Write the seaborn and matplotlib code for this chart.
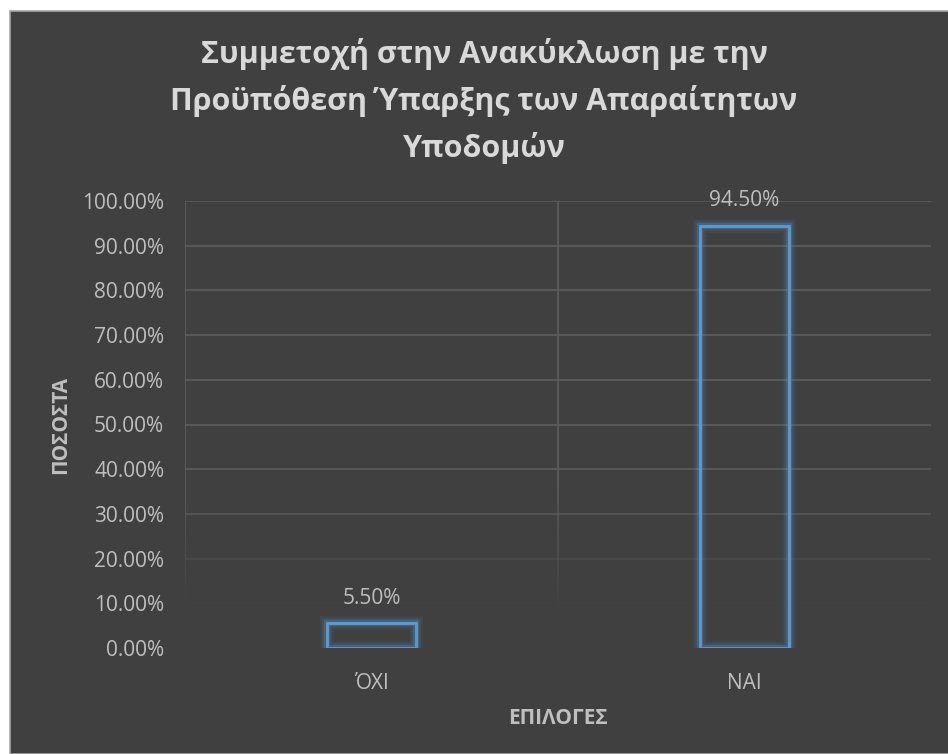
import numpy as np
import pandas as pd
import matplotlib
matplotlib.use("Agg")
import matplotlib.pyplot as plt
import matplotlib.patheffects as pe
from matplotlib.patches import Rectangle
from matplotlib.collections import LineCollection
import seaborn as sns

# Survey results
categories = ["ΌΧΙ", "ΝΑΙ"]
percentages = [5.50, 94.50]
title_text = "Συμμετοχή στην Ανακύκλωση με την\nΠροϋπόθεση Ύπαρξης των Απαραίτητων\nΥποδομών"
y_label = "ΠΟΣΟΣΤΑ"
x_label = "ΕΠΙΛΟΓΕΣ"
y_ticks = [0, 10, 20, 30, 40, 50, 60, 70, 80, 90, 100]

BG = "#404040"
GRID = "#5e5e5e"
BAR = "#5b9bd5"
TEXT = "#bfbfbf"
TITLE = "#d9d9d9"

sns.set_theme(style="dark")
plt.rcParams["font.family"] = ["Open Sans", "DejaVu Sans"]

df = pd.DataFrame({"choice": categories, "pct": percentages})

fig = plt.figure(figsize=(9.48, 7.54), dpi=100)
fig.patch.set_facecolor("white")
# dark chart area with a thin grey frame
frame = Rectangle((9.5 / 948, 0), 1, 1 - 10.5 / 754, transform=fig.transFigure,
                  facecolor=BG, edgecolor="#a6a6a6", linewidth=1.2, zorder=-5)
fig.add_artist(frame)

ax = fig.add_axes([185 / 948, 106 / 754, 746 / 948, 447 / 754])
ax.set_zorder(2)
ax.set_facecolor(BG)

sns.barplot(data=df, x="choice", y="pct", ax=ax, fill=False, width=0.24,
            color=BAR, linewidth=2.0, zorder=3)
for p in ax.patches:
    p.set_edgecolor(BAR)
    p.set_path_effects([
        pe.Stroke(linewidth=10, foreground=BAR, alpha=0.07),
        pe.Stroke(linewidth=7, foreground=BAR, alpha=0.12),
        pe.Stroke(linewidth=4.5, foreground=BAR, alpha=0.25),
        pe.Normal(),
    ])

ax.set_ylim(0, 100)
ax.set_xlim(-0.5, 1.5)

# gridlines that fade toward the baseline
def fade(v):
    return float(np.clip((v - 8) / 30, 0, 1))

for t in y_ticks[1:]:
    ax.axhline(t, color=GRID, linewidth=1.2, alpha=fade(t), zorder=1)
ys = np.linspace(0, 100, 201)
for xv in [-0.5, 0.5]:
    segs = [[(xv, ys[i]), (xv, ys[i + 1])] for i in range(len(ys) - 1)]
    cols = [(0.37, 0.37, 0.37, fade((ys[i] + ys[i + 1]) / 2)) for i in range(len(ys) - 1)]
    ax.add_collection(LineCollection(segs, colors=cols, linewidths=1.2, zorder=1))

for side in ax.spines.values():
    side.set_visible(False)
ax.grid(False)

ax.set_yticks(y_ticks)
ax.set_yticklabels([f"{v:.2f}%" for v in y_ticks])
ax.tick_params(axis="y", colors=TEXT, labelsize=15, length=0, pad=15)
ax.tick_params(axis="x", colors=TEXT, labelsize=15, length=0, pad=18)

for i, v in enumerate(percentages):
    ax.annotate(f"{v:.2f}%", (i, v), xytext=(0, 18), textcoords="offset points",
                ha="center", va="center", color=TEXT, fontsize=15)

ax.set_ylabel(y_label, color=TEXT, fontsize=15, fontweight="bold", ha="center", va="center")
ax.yaxis.set_label_coords((61 - 185) / 746, 0.5)
ax.set_xlabel(x_label, color=TEXT, fontsize=15, fontweight="bold", ha="center", va="center")
ax.xaxis.set_label_coords(0.5, (648 - 718) / 447)

fig.text(484 / 948, 1 - 101 / 754, title_text, ha="center", va="center",
         color=TITLE, fontsize=22, fontweight="bold", linespacing=1.6)

fig.savefig("out.png", dpi=100, facecolor=fig.get_facecolor())
